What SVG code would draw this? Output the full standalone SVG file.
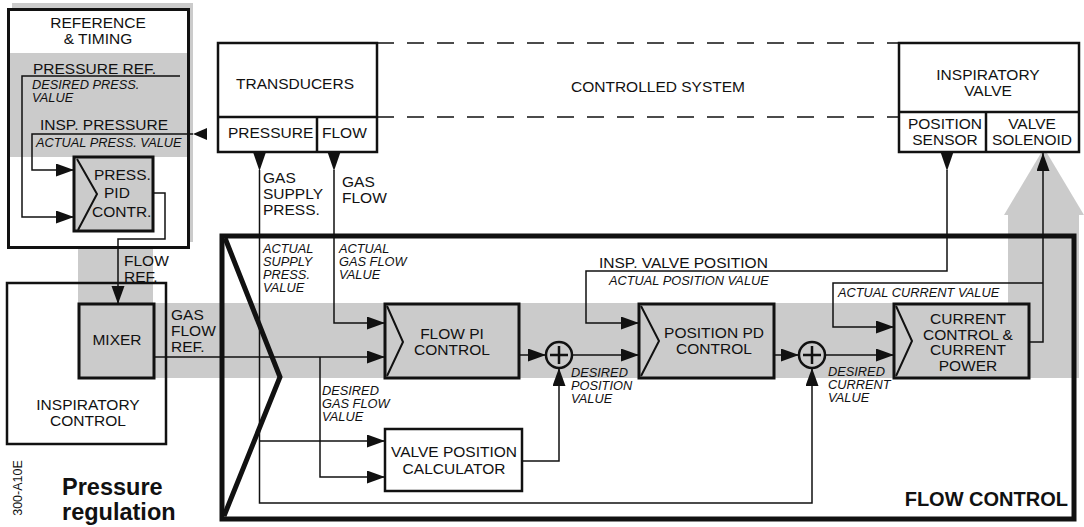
<svg xmlns="http://www.w3.org/2000/svg" width="1084" height="527" viewBox="0 0 1084 527">
<defs>
<style>
text{font-family:"Liberation Sans",Arial,sans-serif;fill:#111}
.t{font-size:15.5px}
.c{text-anchor:middle}
.i{font-size:12.8px;font-style:italic}
.b{font-weight:bold}
.g{fill:#cbcbcb}
.box{fill:none;stroke:#111;stroke-width:2.5}
.gbox{fill:#cbcbcb;stroke:#111;stroke-width:3}
.wbox{fill:#fff;stroke:#111;stroke-width:2.5}
.chev{fill:none;stroke:#111;stroke-width:2}
.ln{fill:none;stroke:#111;stroke-width:1.5}
.dash{fill:none;stroke:#111;stroke-width:1.5;stroke-dasharray:17 13}
.tri{fill:#111}
</style>
<marker id="ah" markerUnits="userSpaceOnUse" markerWidth="20" markerHeight="14" refX="18" refY="6.5" orient="auto">
<path d="M0,0 L18,6.5 L0,13 z" fill="#111"/>
</marker>
</defs>
<rect width="1084" height="527" fill="#fff"/>
<g id="gray-bands">
<rect class="g" x="12" y="3" width="181" height="239"/>
<rect class="g" x="78" y="240" width="75" height="66"/>
<rect class="g" x="150" y="303" width="929" height="75"/>
<rect class="g" x="1008" y="213" width="71" height="165"/>
<polygon class="g" points="1004,215 1044,148 1084,215"/>
</g>
<g id="reference-timing">
<rect x="8.5" y="9.5" width="180" height="238" fill="#fff"/>
<rect class="g" x="8.5" y="53" width="180" height="104"/>
<rect x="8.5" y="9.5" width="180" height="238" fill="none" stroke="#111" stroke-width="3"/>
<text class="t c" x="98" y="28">REFERENCE<tspan x="98" dy="16">&amp; TIMING</tspan></text>
<text class="t" x="33" y="74">PRESSURE REF.</text>
<text class="i" x="32" y="89">DESIRED PRESS.<tspan x="32" dy="13">VALUE</tspan></text>
<text class="t" x="40" y="130">INSP. PRESSURE</text>
<text class="i" x="36" y="147">ACTUAL PRESS. VALUE</text>
</g>
<g id="press-pid">
<rect class="gbox" x="74" y="157" width="79" height="74"/>
<polyline class="chev" points="77,159 97,194 78,230"/>
<text class="t" x="94" y="180">PRESS.<tspan x="104" dy="18">PID</tspan><tspan x="92" dy="19">CONTR.</tspan></text>
</g>
<g id="inspiratory-control">
<rect class="box" x="7" y="283" width="159" height="161"/>
<text class="t c" x="88" y="410">INSPIRATORY<tspan x="88" dy="16">CONTROL</tspan></text>
</g>
<g id="mixer">
<rect class="gbox" x="79" y="304" width="75" height="74"/>
<text class="t c" x="117" y="345">MIXER</text>
</g>
<g id="transducers">
<rect class="wbox" x="218" y="43" width="159" height="109"/>
<line class="box" x1="218" y1="117" x2="377" y2="117"/>
<line class="box" x1="317" y1="117" x2="317" y2="152"/>
<text class="t c" x="295" y="89">TRANSDUCERS</text>
<text class="t" x="228" y="138">PRESSURE</text>
<text class="t" x="322" y="138">FLOW</text>
</g>
<g id="controlled-system">
<path class="dash" d="M377,43 H899"/>
<path class="dash" d="M377,117 H899"/>
<text class="t" x="571" y="92">CONTROLLED SYSTEM</text>
</g>
<g id="inspiratory-valve">
<rect class="wbox" x="899" y="43" width="180" height="109"/>
<line class="box" x1="899" y1="112" x2="1079" y2="112"/>
<line class="box" x1="986" y1="112" x2="986" y2="152"/>
<text class="t c" x="988" y="80">INSPIRATORY<tspan x="988" dy="16">VALVE</tspan></text>
<text class="t c" x="945" y="129">POSITION<tspan x="945" dy="16">SENSOR</tspan></text>
<text class="t c" x="1032" y="129">VALVE<tspan x="1032" dy="16">SOLENOID</tspan></text>
</g>
<g id="flow-control">
<rect x="222" y="236" width="852" height="283" fill="none" stroke="#111" stroke-width="5"/>
<polyline points="225,238 280,377 224,516" fill="none" stroke="#111" stroke-width="5"/>
<text class="b" x="1068" y="506" font-size="20" text-anchor="end">FLOW CONTROL</text>
</g>
<g id="flow-pi">
<rect class="gbox" x="385" y="304" width="134" height="74"/>
<polyline class="chev" points="387,306 403,342 387,376"/>
<text class="t c" x="452" y="339">FLOW PI<tspan x="452" dy="15.5">CONTROL</tspan></text>
</g>
<g id="position-pd">
<rect class="gbox" x="639" y="304" width="135" height="74"/>
<polyline class="chev" points="641,306 659,341 641,376"/>
<text class="t c" x="714" y="338">POSITION PD<tspan x="714" dy="16">CONTROL</tspan></text>
</g>
<g id="current-control">
<rect class="gbox" x="894" y="304" width="135" height="74"/>
<polyline class="chev" points="896,306 912,341 896,376"/>
<text class="t c" x="968" y="324">CURRENT<tspan x="968" dy="15.7">CONTROL &amp;</tspan><tspan x="968" dy="15.7">CURRENT</tspan><tspan x="968" dy="15.7">POWER</tspan></text>
</g>
<g id="valve-position-calculator">
<rect class="wbox" x="385" y="429" width="137" height="62"/>
<text class="t c" x="454" y="457">VALVE POSITION<tspan x="454" dy="17">CALCULATOR</tspan></text>
</g>
<g id="sum-1">
<circle cx="559" cy="355" r="13" fill="none" stroke="#111" stroke-width="2.5"/>
<path d="M550,355 H568 M559,346 V364" stroke="#111" stroke-width="2.5"/>
</g>
<g id="sum-2">
<circle cx="812" cy="355" r="13" fill="none" stroke="#111" stroke-width="2.5"/>
<path d="M803,355 H821 M812,346 V364" stroke="#111" stroke-width="2.5"/>
</g>
<g id="connectors">
<path class="ln" d="M180,76 H22 V217 H74" marker-end="url(#ah)"/>
<polygon class="tri" points="207,128 207,140 193,134"/>
<path class="ln" d="M193,134 H32 V170 H74" marker-end="url(#ah)"/>
<path class="ln" d="M153,193 H165 V239 H118 V304" marker-end="url(#ah)"/>
<path class="ln" d="M154,357 H385" marker-end="url(#ah)"/>
<path class="ln" d="M320,357 V477 H385" marker-end="url(#ah)"/>
<polygon class="tri" points="253,152 266,152 259.5,171"/>
<path class="ln" d="M259.5,170 V503 H812 V368" marker-end="url(#ah)"/>
<path class="ln" d="M259.5,441 H385" marker-end="url(#ah)"/>
<polygon class="tri" points="327.5,152 340.5,152 334,171"/>
<path class="ln" d="M334,170 V323 H385" marker-end="url(#ah)"/>
<path class="ln" d="M519,355 H546" marker-end="url(#ah)"/>
<path class="ln" d="M522,461 H559 V368" marker-end="url(#ah)"/>
<path class="ln" d="M572,355 H639" marker-end="url(#ah)"/>
<polygon class="tri" points="940.5,152 953.5,152 947,171"/>
<path class="ln" d="M947,170 V271 H586 V323 H639" marker-end="url(#ah)"/>
<path class="ln" d="M774,355 H799" marker-end="url(#ah)"/>
<path class="ln" d="M825,355 H894" marker-end="url(#ah)"/>
<path class="ln" d="M1029,342 H1043 V153" marker-end="url(#ah)"/>
<path class="ln" d="M1043,283 H833 V327 H894" marker-end="url(#ah)"/>
</g>
<g id="labels">
<text class="t" x="124" y="266">FLOW<tspan x="124" dy="16">REF.</tspan></text>
<text class="t" x="171" y="320">GAS<tspan x="171" dy="16">FLOW</tspan><tspan x="171" dy="16">REF.</tspan></text>
<text class="t" x="263" y="183">GAS<tspan x="263" dy="16">SUPPLY</tspan><tspan x="263" dy="15.5">PRESS.</tspan></text>
<text class="t" x="342" y="187">GAS<tspan x="342" dy="16">FLOW</tspan></text>
<text class="i" x="263" y="253">ACTUAL<tspan x="263" dy="13">SUPPLY</tspan><tspan x="263" dy="13">PRESS.</tspan><tspan x="263" dy="13">VALUE</tspan></text>
<text class="i" x="339" y="253">ACTUAL<tspan x="339" dy="13">GAS FLOW</tspan><tspan x="339" dy="13">VALUE</tspan></text>
<text class="i" x="322" y="395">DESIRED<tspan x="322" dy="13">GAS FLOW</tspan><tspan x="322" dy="13">VALUE</tspan></text>
<text class="i" x="571" y="377">DESIRED<tspan x="571" dy="13">POSITION</tspan><tspan x="571" dy="13">VALUE</tspan></text>
<text class="i" x="828" y="376">DESIRED<tspan x="828" dy="13">CURRENT</tspan><tspan x="828" dy="13">VALUE</tspan></text>
<text class="t" x="599" y="268">INSP. VALVE POSITION</text>
<text class="i" x="609" y="285">ACTUAL POSITION VALUE</text>
<text class="i" x="838" y="297">ACTUAL CURRENT VALUE</text>
<text x="22" y="488" font-size="12.5" text-anchor="middle" transform="rotate(-90 22 488)">300-A10E</text>
<text class="b" x="62" y="495" font-size="23.5">Pressure<tspan x="62" dy="24.5">regulation</tspan></text>
</g>
</svg>
